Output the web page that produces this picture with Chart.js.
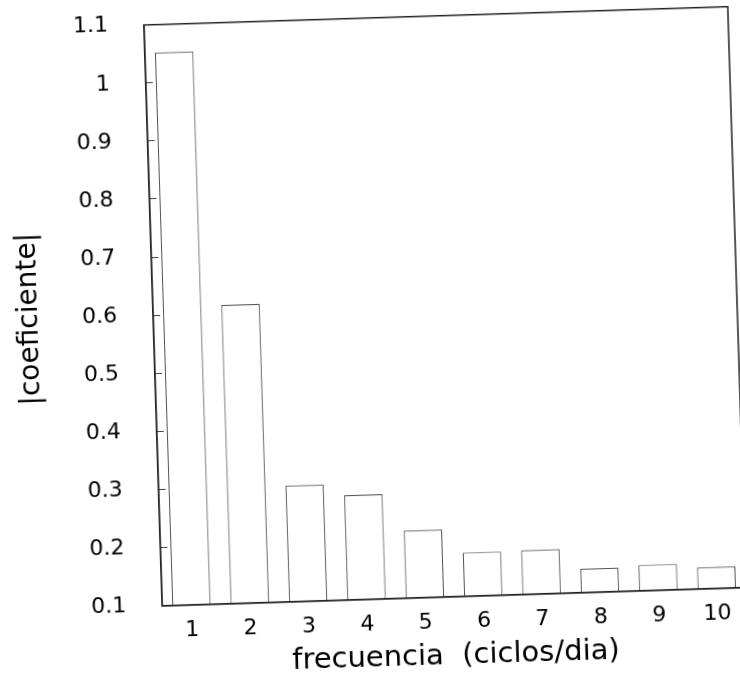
<!DOCTYPE html>
<html>
<head>
<meta charset="utf-8">
<script src="https://cdn.jsdelivr.net/npm/chart.js@4/dist/chart.umd.min.js"></script>
<style>
  html, body { margin: 0; padding: 0; background: #fff; }
  #wrap { position: relative; width: 740px; height: 694px; overflow: hidden; }
  /* the scan is slightly tilted */
  #myChart { position: absolute; left: 0; top: 0; transform-origin: 445px 306px; transform: rotate(-1.8deg); }
</style>
</head>
<body>
<div id="wrap"><canvas id="myChart" width="740" height="694"></canvas></div>
<script>
// bar chart of coefficient magnitudes
var xValues = ["1", "2", "3", "4", "5", "6", "7", "8", "9", "10"];
var yValues = [1.052, 0.614, 0.300, 0.280, 0.216, 0.175, 0.176, 0.141, 0.144, 0.137];
var yTickLabels = ["0.1", "0.2", "0.3", "0.4", "0.5", "0.6", "0.7", "0.8", "0.9", "1", "1.1"];

Chart.defaults.font.family = "'DejaVu Sans', sans-serif";
Chart.defaults.color = "#000";

// full box around the plot
const frame = {
  id: 'frame',
  afterDraw(chart) {
    const a = chart.chartArea;
    const ctx = chart.ctx;
    ctx.save();
    ctx.strokeStyle = '#222';
    ctx.lineWidth = 1.5;
    ctx.strokeRect(a.left, a.top, a.right - a.left, a.bottom - a.top);
    ctx.restore();
  }
};

new Chart("myChart", {
  type: "bar",
  data: {
    labels: xValues,
    datasets: [{
      data: yValues,
      backgroundColor: "#fff",
      borderColor: "#555",
      borderWidth: 1.2,
      borderSkipped: false,
      barPercentage: 0.66,
      categoryPercentage: 1
    }]
  },
  plugins: [frame],
  options: {
    responsive: false,
    animation: false,
    layout: { padding: { top: 15.7, right: 3, bottom: 0, left: 0 } },
    plugins: { legend: { display: false }, tooltip: { enabled: false } },
    scales: {
      x: {
        grid: { display: false, drawTicks: false },
        border: { display: true, color: '#222', width: 1.5 },
        ticks: { font: { size: 22 }, padding: 12, maxRotation: 0 },
        title: { display: true, text: "frecuencia  (ciclos/dia)", font: { size: 29 }, padding: { top: 0, bottom: 20 } },
        afterFit: function (s) { s.height = 97.3; }
      },
      y: {
        min: 0.1,
        max: 1.1,
        grid: { drawOnChartArea: false, tickLength: -7, color: '#444' },
        border: { display: true, color: '#333', width: 1.2 },
        ticks: {
          stepSize: 0.1,
          font: { size: 22 },
          padding: 43,
          callback: function (v, i) { return yTickLabels[i]; }
        },
        title: { display: true, text: "|coeficiente|", font: { size: 28 }, padding: { top: 13, bottom: 0 } },
        afterFit: function (s) {
          s.width = 153;
          // keep the big label padding from pushing the plot down
          s.paddingTop = 0;
          s.paddingBottom = 0;
        }
      }
    }
  }
});
</script>
</body>
</html>
